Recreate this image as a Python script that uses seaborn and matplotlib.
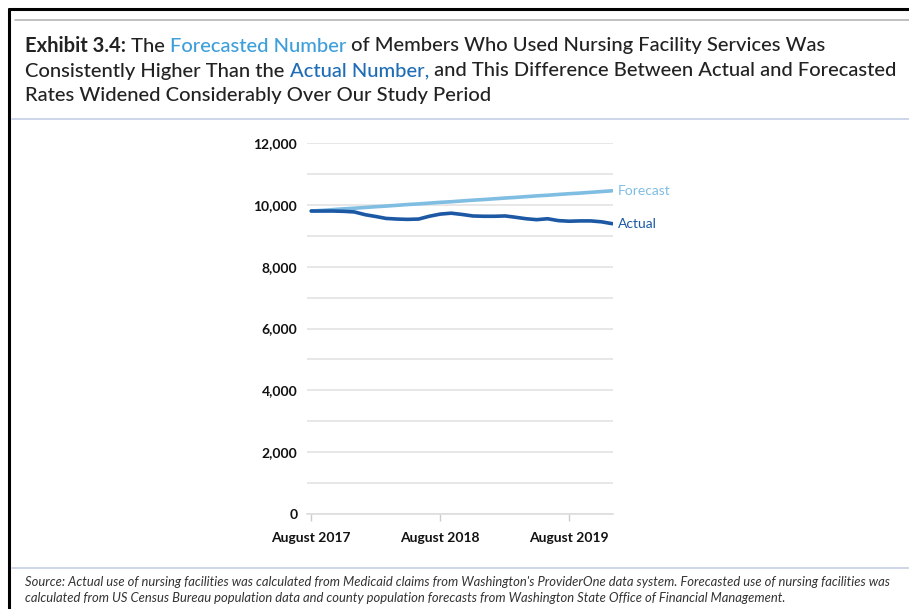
import pandas as pd
import seaborn as sns
import matplotlib.pyplot as plt
from matplotlib.lines import Line2D
from matplotlib.ticker import FuncFormatter, MultipleLocator

# months Aug 2017 .. Dec 2019
months = pd.date_range('2017-08-01', '2019-12-01', freq='MS')

actual = [9800, 9800, 9800, 9790, 9770, 9680, 9620, 9560, 9540, 9530,
          9540, 9630, 9700, 9730, 9690, 9640, 9630, 9630, 9640, 9600,
          9550, 9520, 9550, 9490, 9470, 9480, 9480, 9450, 9390]
forecast = [9800, 9820, 9845, 9870, 9890, 9915, 9940, 9960, 9985, 10010,
            10030, 10055, 10080, 10100, 10125, 10150, 10170, 10195, 10220, 10240,
            10265, 10290, 10310, 10335, 10360, 10380, 10405, 10430, 10455]

series_names = ['Forecast', 'Actual']
series_colors = {'Forecast': '#7fbde2', 'Actual': '#1c58a4'}
tick_dates = ['2017-08-01', '2018-08-01', '2019-08-01']
tick_labels = ['August 2017', 'August 2018', 'August 2019']

title_parts = [
    [('Exhibit 3.4:', '#222222', 'bold'), (' The ', '#222222', 'medium'),
     ('Forecasted Number', '#3d9fda', 'medium'),
     (' of Members Who Used Nursing Facility Services Was', '#222222', 'medium')],
    [('Consistently Higher Than the ', '#222222', 'medium'),
     ('Actual Number,', '#1f6db6', 'medium'),
     (' and This Difference Between Actual and Forecasted', '#222222', 'medium')],
    [('Rates Widened Considerably Over Our Study Period', '#222222', 'medium')],
]
source_text = ("Source: Actual use of nursing facilities was calculated from Medicaid claims from "
               "Washington's ProviderOne data system. Forecasted use of nursing facilities was\n"
               "calculated from US Census Bureau population data and county population forecasts "
               "from Washington State Office of Financial Management.")

df = pd.DataFrame({
    'month': list(months) * 2,
    'value': forecast + actual,
    'series': ['Forecast'] * len(forecast) + ['Actual'] * len(actual),
})

sns.set_theme(style='white')
plt.rcParams['font.family'] = ['Lato', 'DejaVu Sans']

W, H = 909, 609
fig = plt.figure(figsize=(W / 100, H / 100), dpi=100)
ax = fig.add_axes([307 / W, 1 - 514 / H, (613 - 307) / W, (514 - 143) / H])

sns.lineplot(data=df, x='month', y='value', hue='series', hue_order=series_names,
             palette=series_colors, linewidth=2.6, legend=False, ax=ax)

ax.set_ylim(0, 12000)
ax.set_xlim(months[0] - pd.Timedelta(days=12), months[-1] + pd.Timedelta(days=2))
ax.yaxis.set_major_locator(MultipleLocator(2000))
ax.yaxis.set_minor_locator(MultipleLocator(1000))
ax.yaxis.set_major_formatter(FuncFormatter(lambda v, p: f'{int(v):,}'))
ax.grid(axis='y', which='both', color='#e3e3e3', linewidth=1.2)
ax.set_axisbelow(True)
ax.set_xticks(pd.to_datetime(tick_dates))
ax.set_xticklabels(tick_labels)
ax.set_xlabel('')
ax.set_ylabel('')
for s in ['top', 'right', 'left']:
    ax.spines[s].set_visible(False)
ax.spines['bottom'].set_color('#dddddd')
ax.spines['bottom'].set_linewidth(1.2)
ax.tick_params(axis='y', length=0, pad=7, labelsize=10, labelcolor='#111111')
ax.tick_params(axis='x', length=5, width=1, color='#cccccc', pad=8,
               labelsize=10, labelcolor='#111111', bottom=True)
for lbl in ax.get_xticklabels() + ax.get_yticklabels():
    lbl.set_fontweight('bold')

# end labels
for name, vals in [('Forecast', forecast), ('Actual', actual)]:
    ax.annotate(name, xy=(months[-1], vals[-1]), xytext=(4, 0),
                textcoords='offset points', va='center', ha='left',
                fontsize=10, color=series_colors[name], annotation_clip=False)

# title with coloured words
fig.canvas.draw()
renderer = fig.canvas.get_renderer()
line_y = [46, 71, 95]
for parts, yy in zip(title_parts, line_y):
    x = 25 / W
    for txt, col, wt in parts:
        t = fig.text(x, 1 - yy / H, txt, fontsize=14.5, color=col, fontweight=wt,
                     va='center', ha='left')
        bb = t.get_window_extent(renderer=renderer)
        x = bb.x1 / W

fig.text(25 / W, 1 - 590 / H, source_text, fontsize=9.4, style='italic',
         color='#333333', va='center', ha='left', linespacing=1.3)

# frame and separator lines
fig.add_artist(Line2D([9 / W, 1], [1 - 9 / H, 1 - 9 / H], color='black', linewidth=2.2))
fig.add_artist(Line2D([9 / W, 9 / W], [0, 1 - 9 / H], color='black', linewidth=2.2))
fig.add_artist(Line2D([15 / W, 1], [1 - 20 / H, 1 - 20 / H], color='#b5b5b5', linewidth=1.2))
fig.add_artist(Line2D([12 / W, 1], [1 - 119 / H, 1 - 119 / H], color='#c5cfe6', linewidth=1.2))
fig.add_artist(Line2D([12 / W, 1], [1 - 568 / H, 1 - 568 / H], color='#c5cfe6', linewidth=1.2))

fig.savefig('out.png', dpi=100)
